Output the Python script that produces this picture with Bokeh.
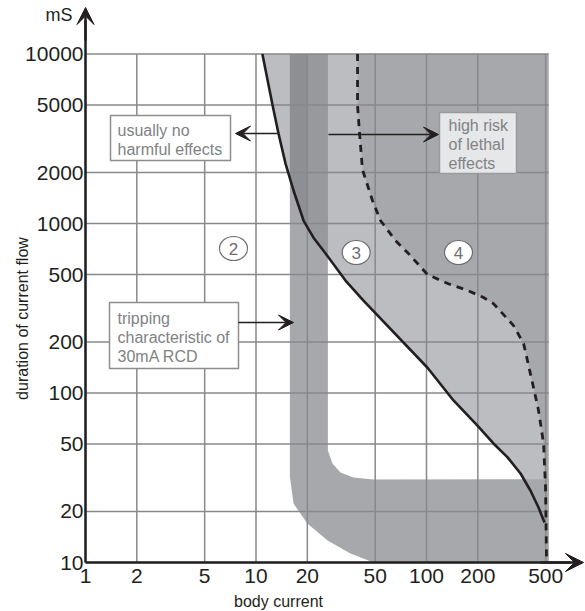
import numpy as np
from bokeh.plotting import figure
from bokeh.models import Range1d, FixedTicker, PrintfTickFormatter, Arrow, VeeHead, Label
from bokeh.core.properties import value
from bokeh.embed import file_html
from bokeh.resources import INLINE

# ---------------- data ----------------
x_ticks = [1, 2, 5, 10, 20, 50, 100, 200, 500]
y_ticks = [10, 20, 50, 100, 200, 500, 1000, 2000, 5000, 10000]
x_min, x_max = 1, 520
y_min, y_max = 10, 10000

# curve c1 (solid): body current (mA) vs duration (ms)
c1_current = [10.9, 12.5, 13.55, 14.9, 16.6, 19.0, 21.7, 25.6, 33.5, 42.7, 101.4,
              144, 199, 247, 299, 356, 407, 454, 492]
c1_duration = [10000, 5000, 3397, 2259, 1567, 1042, 828, 665, 461, 351, 141,
               90.4, 64.3, 50.4, 41.7, 33.5, 26.6, 21.1, 17.2]

# curve c2 (dashed)
c2_current = [39.4, 39.4, 40.5, 42.1, 48.2, 53.7, 65.8, 78.4, 101.4, 133, 174, 216,
              247, 324, 371, 424, 454, 486, 499, 506]
c2_duration = [10000, 4980, 3397, 2084, 1368, 1042, 794, 665, 500, 443, 403, 366,
               337, 250, 196, 108, 78.9, 50.4, 27.7, 10]

# tripping characteristic band of a 30 mA RCD
band_outer_current = [15.8, 15.8, 16.6, 20.0, 26.3, 35.8, 48.9, x_max]
band_outer_duration = [10000, 32.2, 22.3, 17.0, 13.5, 11.3, 10, 10]
band_inner_current = [x_max, 48.9, 37.3, 31.3, 28.1, 26.4, 26.4]
band_inner_duration = [31, 30.9, 31.7, 34.0, 38.4, 45.8, 10000]
band_split = 20

zone_labels = ["2", "3", "4"]

# ---------------- geometry helpers (pixel -> data, for annotation placement) ----------------
FX0, FXD = 85, 170.5        # pixel x of current=1, px per decade
FY0, FYD = 562, 169.47      # pixel y of duration=10, px per decade
W, H = 585, 611


def X(px):
    return 10 ** ((px - FX0) / FXD)


def Y(py):
    return 10 ** (1 + (FY0 - py) / FYD)


INK = "#231f20"
GRAYTXT = "#808285"
FONT = "Liberation Sans"

p = figure(x_axis_type="log", y_axis_type="log", width=W, height=H,
           x_range=Range1d(X(0), X(W)), y_range=Range1d(Y(H), Y(0)),
           output_backend="svg", toolbar_location=None,
           min_border_left=0, min_border_right=0, min_border_top=0, min_border_bottom=0)
p.outline_line_color = None
p.grid.visible = False
p.background_fill_color = "white"

# zones
p.patch(c1_current + [x_max, x_max], c1_duration + [y_min, y_max],
        fill_color="#bcbdc0", line_color=None)
p.patch(c2_current + [x_max, x_max], c2_duration + [y_min, y_max],
        fill_color="#a7a8ab", line_color=None)

# RCD band
p.patch(band_outer_current + band_inner_current, band_outer_duration + band_inner_duration,
        fill_color="#a7a8ab", line_color=None)


def curve_y(xv):
    return 10 ** np.interp(np.log10(xv), np.log10(c1_current), np.log10(c1_duration))


def upper_part(xa, xb, color):
    xs = np.logspace(np.log10(xa), np.log10(xb), 16)
    ys = curve_y(xs)
    p.patch(list(xs) + [xb, xa], list(ys) + [y_max, y_max], fill_color=color, line_color=None)


upper_part(band_outer_current[0], band_split, "#8e8f92")
upper_part(band_split, band_inner_current[-1], "#98999c")

# grid
p.segment(x0=x_ticks, y0=[y_min] * len(x_ticks), x1=x_ticks, y1=[y_max] * len(x_ticks),
          line_color="#88898c", line_width=1.5)
p.segment(x0=[x_min] * len(y_ticks), y0=y_ticks, x1=[x_max] * len(y_ticks), y1=y_ticks,
          line_color="#88898c", line_width=1.5)

# curves
p.line(c1_current, c1_duration, line_color=INK, line_width=2.6)
p.line(c2_current, c2_duration, line_color=INK, line_width=2.8, line_dash="7 6")

# text boxes
p.quad(left=[X(110), X(109)], right=[X(230), X(238)], top=[Y(115), Y(302)],
       bottom=[Y(160), Y(368)], fill_color="white", line_color="#8c8d90", line_width=1.5)
p.quad(left=[X(439)], right=[X(516)], top=[Y(112)], bottom=[Y(173)],
       fill_color="#e6e7e8", line_color="#9a9b9e", line_width=1.5)

box_texts = [("usually no\nharmful effects", 117, 121),
             ("high risk\nof lethal\neffects", 448, 116),
             ("tripping\ncharacteristic of\n30mA RCD", 117, 309)]
for t, bx, by in box_texts:
    p.add_layout(Label(x=X(bx), y=Y(by), text=t, text_font=FONT, text_font_size="16px",
                       text_color=GRAYTXT, text_align="left", text_baseline="top",
                       text_line_height=1.12))

# zone circles
zx = [X(233), X(355.7), X(458)]
zy = [Y(248), Y(252), Y(252)]
p.ellipse(x=zx, y=zy, width=28, height=24, width_units="screen", height_units="screen",
          fill_color="white", line_color="#6d6e71", line_width=1.2)
p.text(x=zx, y=zy, text=zone_labels, text_font=value(FONT), text_font_size="17px",
       text_align="center", text_baseline="middle", text_color="#6d6e71")

# pointer arrows
for (xs_, ys_, xe_, ye_) in [(277, 133, 235, 133), (328, 134, 438, 134), (238, 322, 293, 322)]:
    p.add_layout(Arrow(end=VeeHead(size=15, fill_color=INK, line_color=INK, line_width=1),
                       x_start=X(xs_), y_start=Y(ys_), x_end=X(xe_), y_end=Y(ye_),
                       line_color=INK, line_width=1.5))

# axes (drawn at fixed data locations, inside the canvas)
p.xaxis.fixed_location = y_min
p.yaxis.fixed_location = x_min
p.xaxis.bounds = (x_min, X(570))
p.yaxis.bounds = (y_min, Y(20))
p.xaxis.ticker = FixedTicker(ticks=x_ticks)
p.yaxis.ticker = FixedTicker(ticks=y_ticks)
p.axis.formatter = PrintfTickFormatter(format="%d")
p.axis.major_tick_line_color = None
p.axis.minor_tick_line_color = None
p.axis.major_tick_out = 0
p.axis.major_tick_in = 0
p.axis.minor_tick_out = 0
p.axis.axis_line_color = INK
p.axis.axis_line_width = 2.5
p.axis.major_label_text_font = FONT
p.axis.major_label_text_font_size = "21px"
p.axis.major_label_text_color = INK
p.xaxis.major_label_standoff = 6
p.yaxis.major_label_standoff = 2

# axis arrows
p.add_layout(Arrow(end=VeeHead(size=17, fill_color=INK, line_color=INK, line_width=1),
                   x_start=x_min, y_start=Y(40), x_end=x_min, y_end=Y(7),
                   line_color=INK, line_width=2.5))
p.add_layout(Arrow(end=VeeHead(size=18, fill_color=INK, line_color=INK, line_width=1),
                   x_start=X(540), y_start=y_min, x_end=X(583), y_end=y_min,
                   line_color=INK, line_width=2.5))

# axis titles
p.add_layout(Label(x=X(72), y=Y(14), text="mS", text_font=FONT, text_font_size="18px",
                   text_color=INK, text_align="right", text_baseline="alphabetic"))
p.add_layout(Label(x=X(278), y=Y(601), text="body current", text_font=FONT,
                   text_font_size="16px", text_color=INK, text_align="center",
                   text_baseline="alphabetic"))
p.add_layout(Label(x=X(22), y=Y(318), text="duration of current flow", text_font=FONT,
                   text_font_size="16px", text_color=INK, text_align="center",
                   text_baseline="alphabetic", angle=np.pi / 2))

open("out.html", "w").write(file_html(p, INLINE))
